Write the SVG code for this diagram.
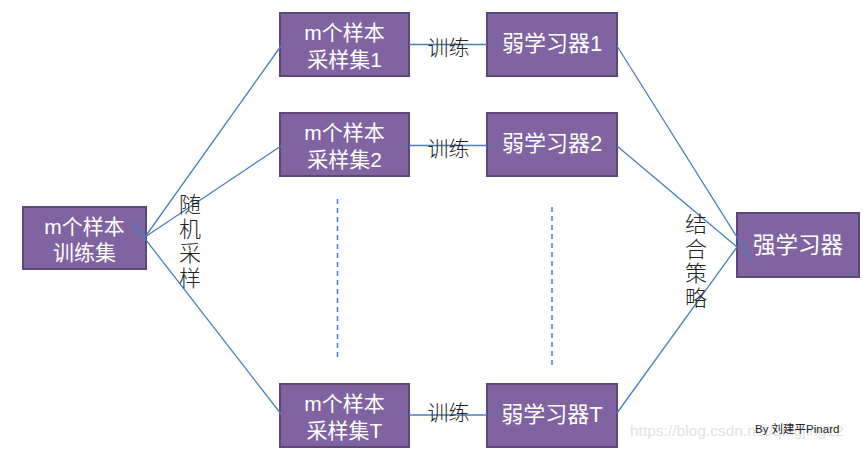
<svg xmlns="http://www.w3.org/2000/svg" width="863" height="450" viewBox="0 0 863 450">
<style>
.box{fill:#8064A2;stroke:#5C4776;stroke-width:2}
.bt{fill:#ffffff;font-family:"Liberation Sans","Noto Sans CJK SC",sans-serif;font-size:21px;text-anchor:middle}
.lbl{fill:#222222;font-family:"Noto Sans CJK SC",sans-serif;font-size:21px;font-weight:300;text-anchor:middle}
.vl{fill:#222222;font-family:"Noto Sans CJK SC",sans-serif;font-size:22px;font-weight:300;writing-mode:vertical-rl;letter-spacing:2.5px}
.ln{stroke:#4A7EBB;stroke-width:1.3;fill:none}
.dash{stroke:#4A7EBB;stroke-width:1.5;stroke-dasharray:5 4;fill:none}
</style>
<rect width="863" height="450" fill="#ffffff"/>
<g id="train-set">
<rect class="box" x="23" y="207" width="123" height="62"/>
<text class="bt" x="84.5" y="234">m个样本</text>
<text class="bt" x="84.5" y="260">训练集</text>
</g>
<g id="sample1">
<rect class="box" x="280" y="13" width="129" height="63"/>
<text class="bt" x="344.5" y="40">m个样本</text>
<text class="bt" x="344.5" y="66.5">采样集1</text>
</g>
<g id="sample2">
<rect class="box" x="280" y="113" width="129" height="63"/>
<text class="bt" x="344.5" y="140">m个样本</text>
<text class="bt" x="344.5" y="166.5">采样集2</text>
</g>
<g id="sampleT">
<rect class="box" x="280" y="384" width="129" height="63"/>
<text class="bt" x="344.5" y="411">m个样本</text>
<text class="bt" x="344.5" y="437.5">采样集T</text>
</g>
<g id="weak1">
<rect class="box" x="487" y="13" width="130" height="63"/>
<text class="bt" x="552" y="51" style="font-size:22px">弱学习器1</text>
</g>
<g id="weak2">
<rect class="box" x="487" y="113" width="130" height="63"/>
<text class="bt" x="552" y="151" style="font-size:22px">弱学习器2</text>
</g>
<g id="weakT">
<rect class="box" x="487" y="384" width="130" height="63"/>
<text class="bt" x="552" y="422" style="font-size:22px">弱学习器T</text>
</g>
<g id="strong">
<rect class="box" x="737" y="213" width="122" height="64"/>
<text class="bt" x="798" y="253" style="font-size:22.5px">强学习器</text>
</g>
<g id="connectors">
<line class="ln" x1="145" y1="237" x2="281" y2="46"/>
<line class="ln" x1="145" y1="237" x2="281" y2="146"/>
<line class="ln" x1="132" y1="222" x2="281" y2="414"/>
<line class="ln" x1="409" y1="44.5" x2="487" y2="44.5"/>
<line class="ln" x1="409" y1="145.5" x2="487" y2="145.5"/>
<line class="ln" x1="409" y1="415" x2="487" y2="415"/>
<line class="ln" x1="617" y1="46" x2="752" y2="261"/>
<line class="ln" x1="617" y1="146" x2="737" y2="247"/>
<line class="ln" x1="617" y1="413" x2="737" y2="247"/>
<line class="dash" x1="337.5" y1="199" x2="337.5" y2="361"/>
<line class="dash" x1="552" y1="207" x2="552" y2="368"/>
</g>
<g id="labels">
<text class="lbl" x="448.5" y="55">训练</text>
<text class="lbl" x="448.5" y="156">训练</text>
<text class="lbl" x="448.5" y="420">训练</text>
<text class="vl" x="190" y="193">随机采样</text>
<text class="vl" x="696" y="213">结合策略</text>
</g>
<text x="630" y="436" fill="#e2e2e2" font-family="Liberation Sans, sans-serif" font-size="15.5">https://blog.csdn.net/qingjing12</text>
<text x="755" y="433" fill="#222222" font-family="Liberation Sans, 'Noto Sans CJK SC', sans-serif" font-size="11.5">By 刘建平Pinard</text>
</svg>
